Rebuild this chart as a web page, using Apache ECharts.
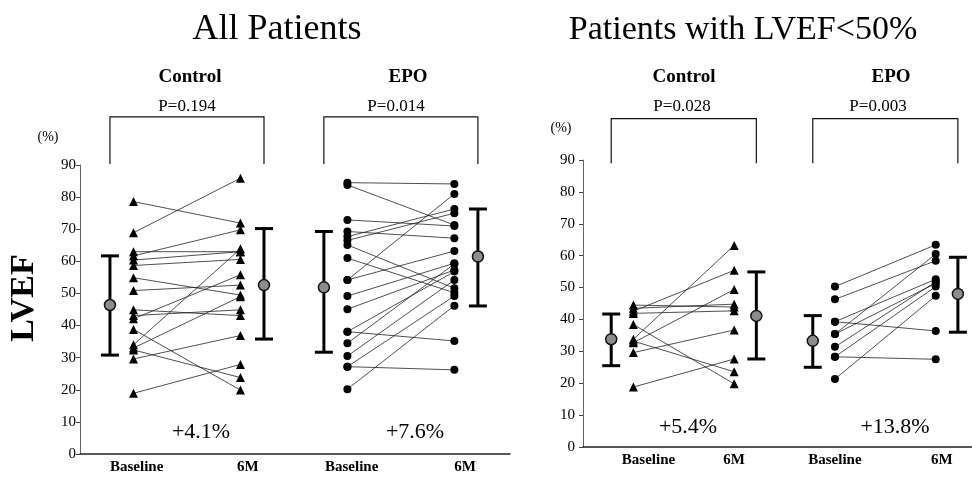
<!DOCTYPE html>
<html>
<head>
<meta charset="utf-8">
<script src="https://cdn.jsdelivr.net/npm/echarts@6/dist/echarts.min.js"></script>
<style>
  html, body { margin: 0; padding: 0; background: #fff; }
  #charts { width: 972px; height: 479px; }
</style>
</head>
<body>
<div id="charts"></div>
<script>
// LVEF (%) per patient: [baseline, 6M]
let allControl = [
  [78.6, 71.9], [68.9, 85.9], [63.0, 63.0], [61.7, 69.8], [60.4, 63.0],
  [58.7, 60.6], [54.9, 49.5], [50.9, 52.6], [44.9, 43.1], [43.1, 44.9],
  [42.1, 55.8], [38.8, 19.9], [34.0, 63.9], [33.0, 49.0], [32.4, 23.8],
  [29.6, 36.9], [18.9, 27.9]
];
let allEpo = [
  [84.5, 84.1], [83.8, 71.3], [72.9, 71.0], [69.3, 67.2], [67.7, 76.3],
  [66.5, 75.0], [65.1, 51.6], [61.0, 50.2], [54.2, 81.0], [54.2, 63.2],
  [49.2, 59.4], [45.1, 57.3], [38.1, 35.2], [38.1, 56.8], [34.5, 59.2],
  [30.5, 54.2], [27.2, 26.2], [27.2, 49.2], [20.2, 46.2]
];
let lowControl = [
  [44.5, 43.9], [43.5, 44.8], [42.6, 55.4], [41.9, 42.7], [38.4, 19.8],
  [33.8, 63.2], [32.7, 49.4], [33.2, 23.6], [29.6, 36.7], [18.8, 27.6]
];
let lowEpo = [
  [50.3, 63.4], [46.3, 58.4], [39.3, 36.4], [39.3, 52.6], [35.4, 60.5],
  [35.4, 51.3], [31.4, 51.8], [28.3, 50.3], [28.3, 27.5], [21.3, 47.4]
];

// group summary: [mean, lower bar end, upper bar end] for baseline and 6M
let allControlStats = [[46.4, 30.8, 61.7], [52.6, 35.8, 70.2]];
let allEpoStats = [[51.9, 31.7, 69.3], [61.5, 46.1, 76.3]];
let lowControlStats = [[33.8, 25.5, 41.7], [41.1, 27.6, 54.9]];
let lowEpoStats = [[33.3, 25.0, 41.2], [48.0, 36.0, 59.5]];

let yTicks = [0, 10, 20, 30, 40, 50, 60, 70, 80, 90];
let timeLabels = ["Baseline", "6M"];
let groupNames = ["Control", "EPO"];
let panelTitles = ["All Patients", "Patients with LVEF<50%"];
let pValues = ["P=0.194", "P=0.014", "P=0.028", "P=0.003"];
let changes = ["+4.1%", "+7.6%", "+5.4%", "+13.8%"];

let dom = document.getElementById("charts");
let myChart = echarts.init(dom, null, { renderer: "canvas" });

let serif = "Liberation Serif, Times New Roman, serif";
// bracket top/bottom in axis units for each panel
let brackets = [[105, 90.3], [103, 89]];
let meanShift = [-0.22, 0.22];

function renderPair(params, api) {
  let p0 = api.coord([api.value(0), api.value(1)]);
  let p1 = api.coord([api.value(2), api.value(3)]);
  return {
    type: "line",
    shape: { x1: p0[0], y1: p0[1], x2: p1[0], y2: p1[1] },
    style: { stroke: "#222", lineWidth: 0.8 }
  };
}

function renderErrorBar(params, api) {
  let x = api.value(0);
  let m = api.coord([x, api.value(1)]);
  let lo = api.coord([x, api.value(2)]);
  let hi = api.coord([x, api.value(3)]);
  let w = 9;
  let st = { stroke: "#000", lineWidth: 3 };
  return {
    type: "group",
    children: [
      { type: "line", shape: { x1: lo[0], y1: lo[1], x2: hi[0], y2: hi[1] }, style: st },
      { type: "line", shape: { x1: lo[0] - w, y1: lo[1], x2: lo[0] + w, y2: lo[1] }, style: st },
      { type: "line", shape: { x1: hi[0] - w, y1: hi[1], x2: hi[0] + w, y2: hi[1] }, style: st },
      {
        type: "circle",
        shape: { cx: m[0], cy: m[1], r: 5.5 },
        style: { fill: "#8c8c8c", stroke: "#111", lineWidth: 1.5 }
      }
    ]
  };
}

function renderBracket(params, api) {
  let a = api.coord([api.value(0), api.value(2)]);
  let b = api.coord([api.value(1), api.value(3)]);
  return {
    type: "polyline",
    shape: { points: [[a[0], b[1]], [a[0], a[1]], [b[0], a[1]], [b[0], b[1]]] },
    style: { stroke: "#111", fill: null, lineWidth: 1.2 }
  };
}

function groupSeries(panel, pairs, stats, x0, symbol) {
  let xs = [x0 + meanShift[0], x0 + 1 + meanShift[1]];
  return [
    {
      type: "custom",
      xAxisIndex: panel,
      yAxisIndex: panel,
      renderItem: renderPair,
      data: pairs.map(p => [x0, p[0], x0 + 1, p[1]]),
      z: 2
    },
    {
      type: "scatter",
      xAxisIndex: panel,
      yAxisIndex: panel,
      symbol: symbol,
      symbolSize: symbol === "triangle" ? 9 : 8,
      itemStyle: { color: "#000", opacity: 1 },
      data: pairs.flatMap(p => [[x0, p[0]], [x0 + 1, p[1]]]),
      z: 3
    },
    {
      type: "custom",
      xAxisIndex: panel,
      yAxisIndex: panel,
      renderItem: renderErrorBar,
      data: stats.map((s, i) => [xs[i], s[0], s[1], s[2]]),
      z: 4
    },
    {
      type: "custom",
      xAxisIndex: panel,
      yAxisIndex: panel,
      renderItem: renderBracket,
      clip: false,
      data: [[xs[0], xs[1], brackets[panel][0], brackets[panel][1]]],
      z: 4
    }
  ];
}

// where the Baseline / 6M labels sit in each panel
let labelSlots = [[1.03, 2.07, 3.04, 4.1], [1.15, 2.0, 3.0, 4.06]];

function makeX(panel, min, max) {
  return {
    type: "value",
    gridIndex: panel,
    min: min,
    max: max,
    splitLine: { show: false },
    axisTick: { show: false },
    axisLine: { show: true, lineStyle: { color: "#222", width: 1.6 } },
    axisLabel: {
      customValues: labelSlots[panel],
      formatter: v => timeLabels[(Math.round(v) - 1) % 2],
      fontFamily: serif,
      fontWeight: "bold",
      fontSize: 15,
      color: "#000",
      margin: 6
    }
  };
}

function makeY(panel) {
  return {
    type: "value",
    gridIndex: panel,
    min: yTicks[0],
    max: yTicks[yTicks.length - 1],
    interval: 10,
    splitLine: { show: false },
    axisLine: { show: true, lineStyle: { color: "#666", width: 1 } },
    axisTick: { show: true, length: 4, lineStyle: { color: "#444" } },
    axisLabel: { fontFamily: serif, fontSize: 15, color: "#000", margin: panel ? 8 : 4 }
  };
}

function txt(x, y, text, font, extra) {
  return Object.assign({
    type: "text",
    x: x,
    y: y,
    style: { text: text, font: font, fill: "#000", align: "center", verticalAlign: "middle",
      textAlign: "center", textVerticalAlign: "middle" }
  }, extra || {});
}

let option = {
  animation: false,
  backgroundColor: "#fff",
  grid: [
    { left: 80, top: 165, width: 430, height: 289 },
    { left: 583, top: 160, width: 389, height: 287 }
  ],
  xAxis: [makeX(0, 0.5, 4.52), makeX(1, 0.5, 4.36)],
  yAxis: [makeY(0), makeY(1)],
  graphic: [
    txt(277, 30, panelTitles[0], "36px " + serif),
    txt(743, 30, panelTitles[1], "34px " + serif),
    txt(190, 77, groupNames[0], "bold 19px " + serif),
    txt(408, 77, groupNames[1], "bold 19px " + serif),
    txt(684, 77, groupNames[0], "bold 19px " + serif),
    txt(891, 77, groupNames[1], "bold 19px " + serif),
    txt(187, 107, pValues[0], "17px " + serif),
    txt(396, 107, pValues[1], "17px " + serif),
    txt(682, 107, pValues[2], "17px " + serif),
    txt(878, 107, pValues[3], "17px " + serif),
    txt(48, 137, "(%)", "14px " + serif),
    txt(561, 128, "(%)", "14px " + serif),
    txt(201, 432, changes[0], "22px " + serif),
    txt(415, 432, changes[1], "22px " + serif),
    txt(688, 427, changes[2], "22px " + serif),
    txt(895, 427, changes[3], "22px " + serif),
    txt(24, 298, "LVEF", "bold 34px " + serif, { rotation: Math.PI / 2 })
  ],
  series: [].concat(
    groupSeries(0, allControl, allControlStats, 1, "triangle"),
    groupSeries(0, allEpo, allEpoStats, 3, "circle"),
    groupSeries(1, lowControl, lowControlStats, 1, "triangle"),
    groupSeries(1, lowEpo, lowEpoStats, 3, "circle")
  )
};

myChart.setOption(option);
window.addEventListener("resize", myChart.resize);
</script>
</body>
</html>
